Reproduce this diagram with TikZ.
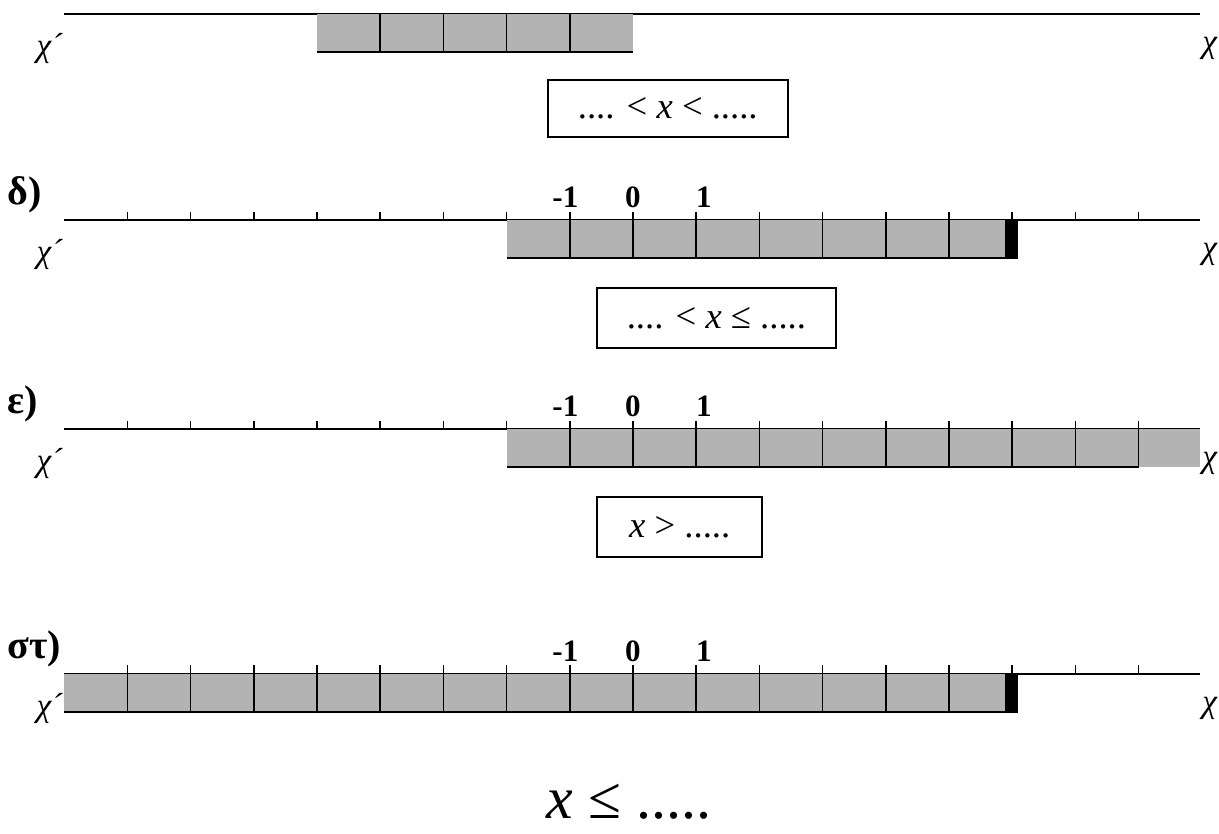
\documentclass[tikz,border=0pt]{standalone}
\usepackage{fontspec}
\setmainfont{Liberation Serif}
\definecolor{bandgray}{RGB}{179,179,179}

\begin{document}
\begin{tikzpicture}[x=1cm,y=1cm,
 axis/.style={line width=.85pt},
 cell/.style={line width=.65pt},
 ansbox/.style={draw,line width=.75pt,inner sep=0pt,font=\fontsize{16.5}{18}\selectfont},
 tag/.style={font=\fontsize{18}{20}\selectfont\bfseries,anchor=west,inner sep=0pt},
 num/.style={font=\fontsize{14}{16}\selectfont\bfseries,inner sep=0pt},
 axlabel/.style={font=\fontsize{15}{17}\selectfont\itshape,inner sep=0pt}]
\useasboundingbox (-10.016,-13.196) rectangle (9.272,0);

% Axes of the four rows: the top one shows no ticks.
\foreach \yy/\nm in {-0.22/a,-3.48/d,-6.79/e,-10.66/s}{
 \draw[axis] (-9,\yy)--(8.97,\yy);
 \node[axlabel,anchor=east] (left\nm) at(-9.02,\yy-0.55) {χ´};
 \node[axlabel,anchor=west] (right\nm) at(9.0,\yy-0.55) {χ};
}
\foreach \yy/\nm/\tg in {-3.48/d/δ),-6.79/e/ε),-10.66/s/στ)}{
 \foreach \k in {-8,...,8} \draw[cell] (\k,\yy)--(\k,\yy+0.13);
 \node[tag] (tag\nm) at(-9.905,\yy+0.4) {\tg};
 \node[num] (m\nm) at(-1.07,\yy+0.36) {-1};
 \node[num] (z\nm) at(0,\yy+0.36) {0};
 \node[num] (p\nm) at(1.12,\yy+0.36) {1};
}

% Top row: shaded from -5 to 0, both ends open.
\begin{scope}[yshift=-0.22cm]
 \fill[bandgray] (-5,0) rectangle (0,-0.6);
 \foreach \k in {-4,...,-1} \draw[cell] (\k,0)--(\k,-0.6);
 \draw[axis] (-5,-0.6)--(0,-0.6);
\end{scope}
\node[ansbox,minimum width=3.8cm,minimum height=0.9cm] (ansa) at(0.55,-1.72) {.... < \textit{x} < .....};

% Row delta: shaded from -2, closed end (black) at 6.
\begin{scope}[yshift=-3.48cm]
 \fill[bandgray] (-2,0) rectangle (5.886,-0.6);
 \fill (5.886,0) rectangle (6.09,-0.6);
 \foreach \k in {-1,...,5} \draw[cell] (\k,0)--(\k,-0.6);
 \draw[axis] (-2,-0.6)--(6.09,-0.6);
\end{scope}
\node[ansbox,minimum width=3.78cm,minimum height=0.95cm] (ansd) at(1.32,-5.03) {.... < \textit{x} ≤ .....};

% Row epsilon: shaded from -2 to the end of the axis.
\begin{scope}[yshift=-6.79cm]
 \fill[bandgray] (-2,0) rectangle (8.97,-0.6);
 \foreach \k in {-1,...,8} \draw[cell] (\k,0)--(\k,-0.6);
 \draw[axis] (-2,-0.6)--(8,-0.6);
\end{scope}
\node[ansbox,minimum width=2.61cm,minimum height=0.95cm] (anse) at(0.74,-8.34) {\textit{x} > .....};

% Row sigma-tau: shaded from the start of the axis, closed end at 6.
\begin{scope}[yshift=-10.66cm]
 \fill[bandgray] (-9,0) rectangle (5.886,-0.6);
 \fill (5.886,0) rectangle (6.09,-0.6);
 \foreach \k in {-8,...,5} \draw[cell] (\k,0)--(\k,-0.6);
 \draw[axis] (-9,-0.6)--(6.09,-0.6);
\end{scope}
\node[font=\fontsize{27}{29}\selectfont,inner sep=0pt] (anss) at(-0.06,-12.68) {\textit{x} ≤ .....};
\end{tikzpicture}
\end{document}
